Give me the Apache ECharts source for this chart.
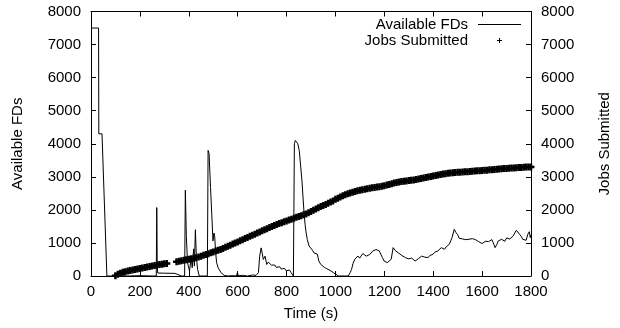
<!DOCTYPE html>
<html>
<head>
<meta charset="utf-8">
<script src="https://cdn.jsdelivr.net/npm/echarts@6/dist/echarts.min.js"></script>
<style>
html,body{margin:0;padding:0;background:#fff;}
#chart{width:620px;height:328px;}
</style>
</head>
<body>
<div id="chart"></div>
<script>
// Available FDs (time in s, value)
const fdTimes = [0,31,32,45,65,80,100,150,200,250,267,269,271,273,300,343,370,383,386,390,395,403,410,414,417,420,423,427,431,436,443,460,476,478,479,483,489,494,499,503,506,510,514,520,532,545,560,580,595,599,603,620,640,660,675,685,690,696,700,705,712,719,725,732,738,746,752,758,766,772,778,786,792,798,806,812,818,823,828,831,832,836,841,846,852,858,863,868,872,876,879,885,892,898,906,912,919,926,932,940,946,955,965,972,982,992,1000,1012,1052,1060,1066,1072,1079,1085,1092,1099,1106,1112,1119,1126,1133,1140,1146,1153,1160,1166,1172,1179,1186,1192,1199,1205,1212,1220,1228,1236,1240,1246,1252,1259,1266,1272,1279,1286,1293,1300,1306,1312,1319,1326,1332,1339,1346,1352,1359,1366,1372,1379,1386,1392,1399,1406,1412,1419,1426,1433,1440,1446,1453,1460,1466,1472,1477,1482,1486,1493,1500,1506,1513,1520,1526,1533,1540,1546,1553,1560,1566,1573,1580,1586,1593,1600,1606,1613,1620,1626,1633,1640,1646,1653,1660,1666,1673,1680,1686,1693,1700,1706,1713,1720,1726,1733,1740,1746,1753,1760,1766,1773,1780,1787,1793,1797,1800];
const fdValues = [7500,7500,4300,4300,0,0,10,0,10,0,0,2070,300,90,85,80,0,0,2600,1200,400,150,560,250,200,820,300,1400,600,200,0,0,0,0,3800,3700,2675,1870,1060,1300,1200,700,400,250,100,20,0,10,0,100,10,20,0,30,20,100,600,850,700,500,600,350,420,400,330,300,330,260,250,280,210,200,230,160,150,180,110,70,0,0,4000,4100,4110,4000,3790,3300,2880,2300,1870,1550,1360,1100,910,850,780,700,757,660,454,350,303,260,220,202,150,100,60,0,0,100,200,380,505,560,606,540,555,680,657,600,555,650,700,757,720,800,757,760,707,560,454,470,404,450,505,858,800,760,707,690,657,620,600,555,570,520,505,540,505,454,470,520,555,600,606,570,600,555,620,660,657,720,700,757,800,858,820,808,880,900,960,980,1162,1300,1414,1313,1250,1142,1180,1120,1142,1100,1150,1111,1140,1130,1162,1100,1080,1040,1000,980,1020,1050,1080,1040,1010,1100,1000,858,950,1060,1000,1111,1111,1050,1150,1182,1120,1142,1200,1250,1384,1340,1263,1200,1111,1150,1080,1263,1340,1162,1250];

// Jobs Submitted (time in s, count); gap between 310 and 350
const jobTimes = [100,110,120,130,140,150,160,170,180,190,200,210,220,230,240,250,260,270,280,290,300,310,
350,360,370,380,390,400,410,420,430,440,450,460,470,480,490,500,510,520,530,540,550,560,570,580,590,600,610,620,630,640,650,660,670,680,690,700,710,720,730,740,750,760,770,780,790,800,810,820,830,840,850,860,870,880,890,900,910,920,930,940,950,960,970,980,990,1000,1010,1020,1030,1040,1050,1060,1070,1080,1090,1100,1110,1120,1130,1140,1150,1160,1170,1180,1190,1200,1210,1220,1230,1240,1250,1260,1270,1280,1290,1300,1310,1320,1330,1340,1350,1360,1370,1380,1390,1400,1410,1420,1430,1440,1450,1460,1470,1480,1490,1500,1510,1520,1530,1540,1550,1560,1570,1580,1590,1600,1610,1620,1630,1640,1650,1660,1670,1680,1690,1700,1710,1720,1730,1740,1750,1760,1770,1780,1790,1800];
const jobValues = [10,50,85,110,130,150,165,180,195,210,225,240,255,270,285,300,315,330,345,355,370,380,
430,445,460,475,490,505,520,540,555,575,600,625,650,675,700,725,755,780,805,835,870,900,930,965,995,1030,1065,1100,1135,1165,1200,1230,1265,1300,1330,1365,1400,1430,1465,1495,1525,1555,1585,1610,1640,1665,1695,1720,1745,1775,1800,1825,1850,1875,1910,1950,1990,2030,2065,2100,2130,2165,2200,2235,2270,2320,2355,2390,2425,2455,2485,2510,2535,2555,2575,2595,2610,2625,2640,2655,2668,2680,2692,2700,2715,2730,2750,2770,2790,2810,2825,2840,2855,2865,2875,2885,2895,2905,2920,2935,2950,2965,2980,2995,3010,3025,3040,3055,3070,3085,3095,3105,3115,3125,3130,3135,3140,3145,3150,3155,3160,3170,3175,3180,3185,3190,3195,3200,3210,3215,3220,3230,3235,3245,3250,3255,3260,3265,3270,3275,3280,3285,3290,3295,3300,3300];

// Axis ticks
const xTicks = {min: 0, max: 1800, step: 200};
const yTicks = {min: 0, max: 8000, step: 1000};

const FONT = 'Liberation Sans';
const textBase = {color: '#000', fontFamily: FONT, fontSize: 15};
const PLUS = 'path://M2.25,0H4.75V2.25H7V4.75H4.75V7H2.25V4.75H0V2.25H2.25Z';
const plainNum = v => String(Math.round(v));

const fdData = fdTimes.map((t, i) => [t, fdValues[i]]);
const jobData = jobTimes.map((t, i) => [t, jobValues[i]]);

function xAxisCfg(pos, showLabel, name) {
  return {
    type: 'value', position: pos, min: xTicks.min, max: xTicks.max, interval: xTicks.step,
    name: name || '', nameLocation: 'middle', nameGap: 30, nameTextStyle: textBase,
    axisLine: {show: true, onZero: false, lineStyle: {color: '#000', width: 1}},
    axisTick: {show: true, inside: true, length: 5, lineStyle: {color: '#000', width: 1}},
    axisLabel: Object.assign({show: showLabel, margin: 8, formatter: plainNum}, textBase),
    splitLine: {show: false}
  };
}
function yAxisCfg(pos, name) {
  return {
    type: 'value', position: pos, min: yTicks.min, max: yTicks.max, interval: yTicks.step,
    name: name, nameLocation: 'middle', nameGap: 66, nameRotate: 90, nameTextStyle: textBase,
    axisLine: {show: true, onZero: false, lineStyle: {color: '#000', width: 1}},
    axisTick: {show: true, inside: true, length: 5, lineStyle: {color: '#000', width: 1}},
    axisLabel: Object.assign({show: true, margin: 10, formatter: plainNum}, textBase),
    splitLine: {show: false}
  };
}

const chart = echarts.init(document.getElementById('chart'), null, {renderer: 'canvas'});
chart.setOption({
  animation: false,
  backgroundColor: '#fff',
  grid: {left: 91, right: 79, top: 11.5, bottom: 52, containLabel: false},
  legend: {
    orient: 'vertical', right: 99, top: 17, padding: 0, align: 'right',
    itemWidth: 48, itemHeight: 15, itemGap: 1, selectedMode: false,
    itemStyle: {borderWidth: 0},
    textStyle: Object.assign({lineHeight: 15}, textBase),
    data: [
      {name: 'Available FDs', icon: 'path://M0,0M48,15M5,7H48V8H5Z'},
      {name: 'Jobs Submitted', icon: 'path://M0,0M48,15M26,5H27V7H29V8H27V10H26V8H24V7H26Z'}
    ]
  },
  xAxis: [xAxisCfg('bottom', true, 'Time (s)'), xAxisCfg('top', false)],
  yAxis: [yAxisCfg('left', 'Available FDs'), yAxisCfg('right', 'Jobs Submitted')],
  series: [
    {
      name: 'Available FDs', type: 'line', xAxisIndex: 0, yAxisIndex: 0,
      data: fdData, showSymbol: false, symbol: 'none',
      lineStyle: {color: '#000', width: 1}, itemStyle: {color: '#000'}
    },
    {
      name: 'Jobs Submitted', type: 'scatter', xAxisIndex: 0, yAxisIndex: 1,
      data: jobData, symbol: PLUS, symbolSize: 7,
      itemStyle: {color: '#000', opacity: 1}
    }
  ]
});
</script>
</body>
</html>
